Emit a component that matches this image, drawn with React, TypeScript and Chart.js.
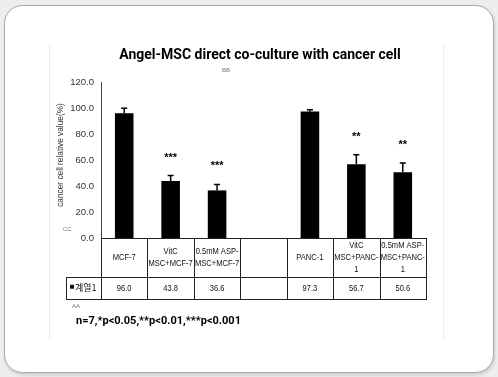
import React, { useEffect, useRef } from "react";
import { Chart, registerables } from "chart.js";

Chart.register(...registerables);

const categories: (string | string[])[] = [
  "MCF-7",
  ["VitC", "MSC+MCF-7"],
  ["0.5mM ASP-", "MSC+MCF-7"],
  "",
  "PANC-1",
  ["VitC", "MSC+PANC-", "1"],
  ["0.5mM ASP-", "MSC+PANC-", "1"],
];
const seriesName = "계열1";
const values: (number | null)[] = [96.0, 43.8, 36.6, null, 97.3, 56.7, 50.6];
const errors: (number | null)[] = [3.8, 4.3, 4.6, null, 1.3, 7.3, 7.0];
const significance: string[] = ["", "***", "***", "", "", "**", "**"];
const yTicks: number[] = [0, 20, 40, 60, 80, 100, 120];
const titleText = "Angel-MSC direct co-culture with cancer cell";
const yTitle = "cancer cell relative value(%)";
const footnote = "n=7,*p<0.05,**p<0.01,***p<0.001";

const SANS = "'Liberation Sans', sans-serif";

function roundRect(ctx: CanvasRenderingContext2D, x: number, y: number, w: number, h: number, r: number) {
  ctx.beginPath();
  ctx.moveTo(x + r, y);
  ctx.lineTo(x + w - r, y);
  ctx.arcTo(x + w, y, x + w, y + r, r);
  ctx.lineTo(x + w, y + h - r);
  ctx.arcTo(x + w, y + h, x + w - r, y + h, r);
  ctx.lineTo(x + r, y + h);
  ctx.arcTo(x, y + h, x, y + h - r, r);
  ctx.lineTo(x, y + r);
  ctx.arcTo(x, y, x + r, y, r);
  ctx.closePath();
}

function narrowText(ctx: CanvasRenderingContext2D, t: string, x: number, y: number, sx: number) {
  ctx.save();
  ctx.translate(x, y);
  ctx.scale(sx, 1);
  ctx.fillText(t, 0, 0);
  ctx.restore();
}

const decorPlugin = {
  id: "decor",
  beforeDraw(chart: any) {
    const ctx: CanvasRenderingContext2D = chart.ctx;
    const W = chart.width;
    const H = chart.height;
    ctx.save();
    ctx.fillStyle = "#eeeeee";
    ctx.fillRect(0, 0, W, H);
    ctx.shadowColor = "rgba(0,0,0,0.18)";
    ctx.shadowBlur = 4;
    ctx.shadowOffsetX = 1;
    ctx.shadowOffsetY = 2;
    roundRect(ctx, 4.5, 5.5, 489, 367, 18);
    ctx.fillStyle = "#ffffff";
    ctx.fill();
    ctx.shadowColor = "transparent";
    ctx.strokeStyle = "#a8a8a8";
    ctx.lineWidth = 1;
    ctx.stroke();
    ctx.strokeStyle = "#ececec";
    ctx.beginPath();
    ctx.moveTo(49.5, 45);
    ctx.lineTo(49.5, 340);
    ctx.moveTo(443.5, 45);
    ctx.lineTo(443.5, 340);
    ctx.stroke();
    ctx.restore();
  },
  afterDraw(chart: any) {
    const ctx: CanvasRenderingContext2D = chart.ctx;
    const xs = chart.scales.x;
    const ys = chart.scales.y;
    const area = chart.chartArea;
    const n = categories.length;
    const colW = (area.right - area.left) / n;
    ctx.save();

    // error bars
    ctx.strokeStyle = "#000";
    ctx.lineWidth = 1.5;
    for (let i = 0; i < n; i++) {
      const v = values[i];
      const e = errors[i];
      if (v == null || e == null) continue;
      const x = xs.getPixelForValue(i);
      const yb = ys.getPixelForValue(v);
      const yt = ys.getPixelForValue(v + e);
      ctx.beginPath();
      ctx.moveTo(x, yb);
      ctx.lineTo(x, yt);
      ctx.moveTo(x - 3, yt);
      ctx.lineTo(x + 3, yt);
      ctx.stroke();
    }

    // significance
    ctx.fillStyle = "#000";
    ctx.font = "bold 11px " + SANS;
    ctx.textAlign = "center";
    ctx.textBaseline = "middle";
    for (let i = 0; i < n; i++) {
      const s = significance[i];
      const v = values[i];
      const e = errors[i];
      if (!s || v == null) continue;
      const x = xs.getPixelForValue(i);
      const yt = ys.getPixelForValue(v + (e || 0));
      ctx.fillText(s, x, yt - 18);
    }

    // data table
    const top = area.bottom;
    const headB = top + 39;
    const dataB = headB + 21.5;
    const L = area.left;
    const R = area.right;
    const legL = L - 35;
    ctx.strokeStyle = "#222";
    ctx.lineWidth = 1;
    ctx.beginPath();
    ctx.moveTo(L, Math.round(top) + 0.5);
    ctx.lineTo(R, Math.round(top) + 0.5);
    ctx.moveTo(legL, Math.round(headB) + 0.5);
    ctx.lineTo(R, Math.round(headB) + 0.5);
    ctx.moveTo(legL, Math.round(dataB) + 0.5);
    ctx.lineTo(R, Math.round(dataB) + 0.5);
    ctx.moveTo(Math.round(legL) + 0.5, Math.round(headB));
    ctx.lineTo(Math.round(legL) + 0.5, Math.round(dataB));
    for (let i = 0; i <= n; i++) {
      const x = Math.round(L + colW * i) + 0.5;
      ctx.moveTo(x, Math.round(top));
      ctx.lineTo(x, Math.round(dataB) + 1);
    }
    ctx.stroke();

    ctx.fillStyle = "#111";
    ctx.font = "9px " + SANS;
    ctx.textBaseline = "middle";
    ctx.textAlign = "center";
    for (let i = 0; i < n; i++) {
      const cx = L + colW * (i + 0.5);
      const c = categories[i];
      const lines = Array.isArray(c) ? c : [c];
      const lh = 12;
      const midY = (top + headB) / 2;
      const start = midY - ((lines.length - 1) * lh) / 2;
      lines.forEach((ln, k) => narrowText(ctx, ln, cx, start + k * lh, 0.84));
      const v = values[i];
      if (v != null) narrowText(ctx, v.toFixed(1), cx, (headB + dataB) / 2 + 0.5, 0.84);
    }
    // legend cell
    const legMid = (headB + dataB) / 2;
    ctx.fillRect(legL + 4, legMid - 3, 4, 4);
    ctx.textAlign = "left";
    ctx.font = "9px 'Noto Sans CJK KR', sans-serif";
    ctx.fillText(seriesName, legL + 9, legMid);

    // title
    ctx.textAlign = "center";
    ctx.fillStyle = "#000";
    ctx.font = "bold 14px 'Roboto', 'Liberation Sans', sans-serif";
    ctx.fillText(titleText, 260, 55);
    // placeholders
    ctx.fillStyle = "#777";
    ctx.font = "6px " + SANS;
    ctx.fillText("BB", 226, 70);
    ctx.textAlign = "left";
    ctx.fillText("CC", 63, 229);
    ctx.fillText("AA", 72, 306);

    // footnote
    ctx.fillStyle = "#000";
    ctx.font = "bold 11px 'Roboto', 'Liberation Sans', sans-serif";
    ctx.fillText(footnote, 76, 321);

    // y title
    ctx.save();
    ctx.translate(61, 155);
    ctx.rotate(-Math.PI / 2);
    ctx.textAlign = "center";
    ctx.fillStyle = "#333";
    ctx.font = "9px " + SANS;
    narrowText(ctx, yTitle, 0, 0, 0.92);
    ctx.restore();

    ctx.restore();
  },
};

export default function App() {
  const ref = useRef<HTMLCanvasElement | null>(null);
  useEffect(() => {
    if (!ref.current) return;
    const chart = new Chart(ref.current, {
      type: "bar",
      data: {
        labels: categories.map((_, i) => String(i)),
        datasets: [
          {
            label: seriesName,
            data: values as any,
            backgroundColor: "#000000",
            borderWidth: 0,
            barPercentage: 0.4,
            categoryPercentage: 1,
          },
        ],
      },
      options: {
        responsive: false,
        animation: false,
        maintainAspectRatio: false,
        layout: { padding: { left: 40, right: 72, top: 82, bottom: 139 } },
        plugins: { legend: { display: false }, tooltip: { enabled: false }, title: { display: false } },
        scales: {
          x: { display: false },
          y: {
            min: 0,
            max: 120,
            afterFit: (s: any) => {
              s.width = 61;
            },
            afterBuildTicks: (s: any) => {
              s.ticks = yTicks.map((v) => ({ value: v }));
            },
            ticks: {
              callback: (v: any) => Number(v).toFixed(1),
              color: "#333",
              font: { size: 9.5, family: SANS },
              padding: 7,
            },
            grid: { display: false, drawTicks: false },
            border: { display: true, color: "#444", width: 1 },
          },
        },
      },
      plugins: [decorPlugin],
    });
    return () => chart.destroy();
  }, []);
  return (
    <div style={{ position: "fixed", left: 0, top: 0, width: 498, height: 377 }}>
      <canvas ref={ref} width={498} height={377} style={{ display: "block", width: 498, height: 377 }} />
    </div>
  );
}
